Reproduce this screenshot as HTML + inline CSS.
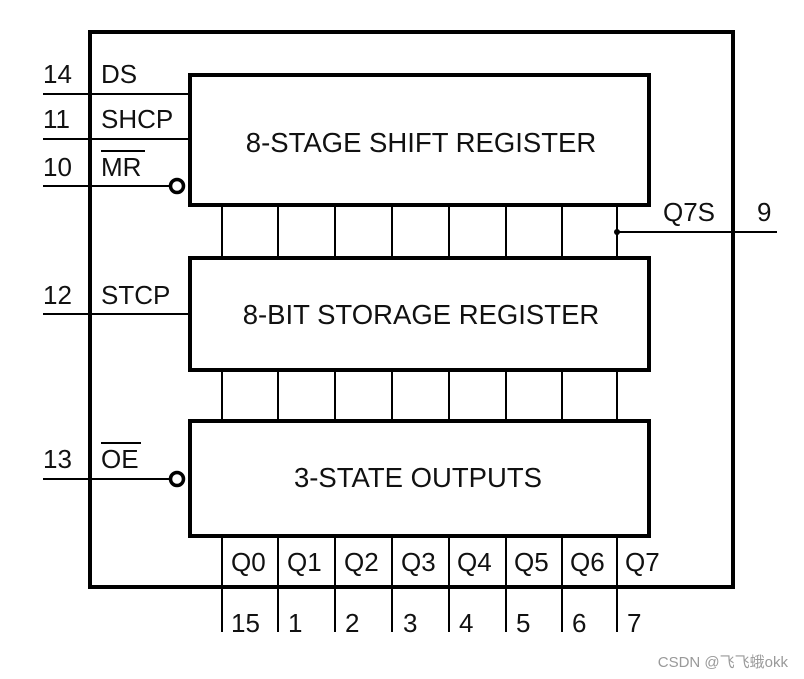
<!DOCTYPE html>
<html><head><meta charset="utf-8"><style>
html,body{margin:0;padding:0;background:#fff;}
svg{display:block;}
text{font-family:"Liberation Sans",Arial,sans-serif;fill:#111;}
</style></head><body>
<svg width="804" height="679" viewBox="0 0 804 679" xmlns="http://www.w3.org/2000/svg">
<rect width="804" height="679" fill="#fff"/>
<rect x="90" y="32" width="643" height="555" fill="none" stroke="#000" stroke-width="4"/>
<g stroke="#000" stroke-width="2">
<line x1="222" y1="205" x2="222" y2="632"/>
<line x1="278" y1="205" x2="278" y2="632"/>
<line x1="335" y1="205" x2="335" y2="632"/>
<line x1="392" y1="205" x2="392" y2="632"/>
<line x1="449" y1="205" x2="449" y2="632"/>
<line x1="506" y1="205" x2="506" y2="632"/>
<line x1="562" y1="205" x2="562" y2="632"/>
<line x1="617" y1="205" x2="617" y2="632"/>
<line x1="43" y1="94" x2="190" y2="94"/>
<line x1="43" y1="139" x2="190" y2="139"/>
<line x1="43" y1="186" x2="171" y2="186"/>
<line x1="43" y1="314" x2="190" y2="314"/>
<line x1="43" y1="479" x2="171" y2="479"/>
<line x1="617" y1="232" x2="777" y2="232"/>
<line x1="101" y1="151" x2="145" y2="151"/>
<line x1="101" y1="443" x2="141" y2="443"/>
</g>
<circle cx="617" cy="232" r="3" fill="#000"/>
<g fill="#fff" stroke="#000" stroke-width="4">
<rect x="190" y="75" width="459" height="130"/>
<rect x="190" y="258" width="459" height="112"/>
<rect x="190" y="421" width="459" height="115"/>
<circle cx="177" cy="186" r="6.5" stroke-width="3.5"/>
<circle cx="177" cy="479" r="6.5" stroke-width="3.5"/>
</g>
<g font-size="27.5" text-anchor="middle">
<text x="421" y="152">8-STAGE SHIFT REGISTER</text>
<text x="421" y="324">8-BIT STORAGE REGISTER</text>
<text x="418" y="487">3-STATE OUTPUTS</text>
</g>
<g font-size="26">
<text x="43" y="83">14</text><text x="101" y="83">DS</text>
<text x="43" y="128">11</text><text x="101" y="128">SHCP</text>
<text x="43" y="176">10</text><text x="101" y="176">MR</text>
<text x="43" y="304">12</text><text x="101" y="304">STCP</text>
<text x="43" y="468">13</text><text x="101" y="468">OE</text>
<text x="663" y="221">Q7S</text><text x="757" y="221">9</text>
<text x="231" y="571">Q0</text><text x="287" y="571">Q1</text><text x="344" y="571">Q2</text>
<text x="401" y="571">Q3</text><text x="457" y="571">Q4</text><text x="514" y="571">Q5</text>
<text x="570" y="571">Q6</text><text x="625" y="571">Q7</text>
<text x="231" y="632">15</text><text x="288" y="632">1</text><text x="345" y="632">2</text>
<text x="403" y="632">3</text><text x="459" y="632">4</text><text x="516" y="632">5</text>
<text x="572" y="632">6</text><text x="627" y="632">7</text>
</g>
<text x="788" y="667" font-size="15" text-anchor="end" style="fill:#999;font-family:'Liberation Sans','Noto Sans CJK SC',sans-serif;">CSDN @飞飞蛾okk</text>
</svg>
</body></html>
